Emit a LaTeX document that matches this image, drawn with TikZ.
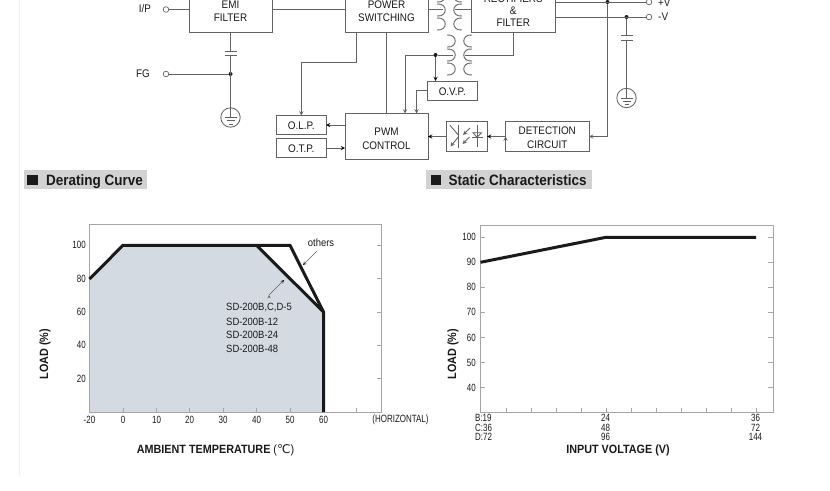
\documentclass[tikz,border=0pt]{standalone}
\usepackage{fontspec}
\setmainfont[FakeStretch=0.9]{Liberation Sans}
\newfontfamily\narrowfont[FakeStretch=0.76]{Liberation Sans}
\newfontfamily\unitfont{DejaVu Sans}
\usetikzlibrary{positioning}
\usetikzlibrary{arrows,calc}
\definecolor{wire}{HTML}{626262}
\definecolor{frame}{HTML}{A6A6A6}
\definecolor{ink}{HTML}{1A1A1A}
\definecolor{titlegray}{HTML}{D2D2D2}
\definecolor{derate}{HTML}{D3DAE1}
\tikzset{
	block/.style={draw=wire,line width=0.9pt,align=center,inner sep=0,outer sep=0,text=ink,font=\fontsize{11}{13.5}\selectfont},
	wideblock/.style={block,minimum width=83pt,minimum height=42pt},
	smallblock/.style={block,minimum width=49.5pt,minimum height=19pt},
	conn/.style={draw=wire,line width=0.9pt},
	term/.style={circle,draw=wire,line width=0.7pt,fill=white,minimum size=5.6pt,inner sep=0,outer sep=0},
	junction/.style={circle,fill=ink,minimum size=4pt,inner sep=0,outer sep=0},
	earth/.style={circle,draw=wire,line width=0.8pt,fill=white,minimum size=19.4pt,inner sep=0,outer sep=0},
	pinlabel/.style={inner sep=0,text=ink,font=\fontsize{11}{11}\selectfont},
	titlebar/.style={fill=titlegray,inner sep=0,outer sep=0,minimum height=19pt},
	titlemark/.style={fill=ink,inner sep=0,minimum size=10.5pt},
	titletext/.style={inner sep=0,anchor=base west,text=ink,font=\fontsize{15}{15}\selectfont\bfseries},
	ticklabel/.style={inner sep=0,text=ink,font=\narrowfont\fontsize{10.5}{10.5}\selectfont},
	axislabel/.style={inner sep=0,text=ink,font=\fontsize{12}{12}\selectfont\bfseries},
	notelabel/.style={inner sep=0,anchor=west,text=ink,font=\fontsize{10.5}{10.5}\selectfont},
	curve/.style={draw=ink,line width=3pt},
	>=stealth
}
% one winding, three turns, bulging to the right (+1) or the left (-1)
\newcommand{\winding}[3]{
	\foreach \turn in {0,14,28}
		\draw[conn] (#1,#2+\turn) .. controls (#1+#3*11,#2+\turn-1) and (#1+#3*11,#2+\turn+13) .. (#1,#2+\turn+12);
}
\newcommand{\earthbars}[1]{
	\draw[conn] ($(#1)+(-6,0)$) -- ($(#1)+(6,0)$);
	\draw[conn] ($(#1)+(-4,3.4)$) -- ($(#1)+(4,3.4)$);
	\draw[conn] ($(#1)+(-2,6.8)$) -- ($(#1)+(2,6.8)$);
}
\begin{document}
\begin{tikzpicture}[x=1pt,y=-1pt]
	\path[use as bounding box,clip] (0,0) rectangle (830,490);
	\fill[white] (0,0) rectangle (830,490);
	\draw[black!6,line width=0.8pt] (19,0) -- (19,475);

	% block diagram
	\node[wideblock] (emi) at (230.5,11) {EMI\\FILTER};
	\node[wideblock] (psw) [right=73pt of emi] {POWER\\SWITCHING};
	\node[wideblock,minimum width=83.5pt] (rect) at (513.25,11) {RECTIFIERS\\[-1.5pt]\&\\[-1.5pt]FILTER};
	\node[block,minimum width=83pt,minimum height=45.5pt] (pwm) [below=81.5pt of psw] {\rule{0pt}{13pt}PWM\\CONTROL};
	\node[smallblock] (olp) at (301.25,125) {\rule{0pt}{9.5pt}O.L.P.};
	\node[smallblock] (otp) [below=4pt of olp] {\rule{0pt}{9.5pt}O.T.P.};
	\node[smallblock] (ovp) at (452.25,90.5) {\rule{0pt}{9.5pt}O.V.P.};
	\node[block,minimum width=40.5pt,minimum height=30pt] (opto) at (466.75,136.5) {};
	\node[block,minimum width=83.5pt,minimum height=30pt] (det) [right=18.5pt of opto] {\rule{0pt}{10pt}DETECTION\\CIRCUIT};

	\node[pinlabel] (iplabel) at (145,9) {I/P};
	\node[pinlabel] (fglabel) at (143,74) {FG};
	\node[pinlabel,anchor=west] (pvlabel) at (658,3) {+V};
	\node[pinlabel,anchor=west] (nvlabel) at (658,17) {-V};
	\node[term] (ip) at (166,9.5) {};
	\node[term] (fg) at (166,74) {};
	\node[term] (pv) at (649,2) {};
	\node[term] (nv) at (649,17) {};
	\node[junction] (fgdot) at (230.5,74) {};
	\node[junction] (pvdot) at (607.5,2) {};
	\node[junction] (nvdot) at (626.5,17) {};
	\node[junction] (fbdot) at (435.5,55) {};
	\node[earth] (gnda) at (230.5,117.5) {};
	\node[earth] (gndb) at (626.5,98) {};

	\coordinate (capa) at (230.5,51);
	\coordinate (capb) at (230.5,55);
	\coordinate (capc) at (626.5,35);
	\coordinate (capd) at (626.5,40);
	\coordinate (tin) at (443,9.5);
	\coordinate (tout) at (455,9.5);
	\coordinate (fbin) at (453,55);
	\coordinate (fbout) at (465,55);

	\winding{437}{-10}{1}
	\winding{462}{-10}{-1}
	\winding{447}{35}{1}
	\winding{472}{35}{-1}

	\path[conn]
		(ip) edge (emi.west |- ip)
		(emi.east |- ip) edge (psw.west |- ip)
		(psw.east |- ip) edge (tin)
		(tout) edge (rect.west |- tout)
		(fg) edge (fgdot)
		(rect.east |- pv) edge (pv)
		(rect.east |- nv) edge (nv)
		(emi.south) edge (capa)
		(capb) edge (gnda.north)
		(nvdot) edge (capc)
		(capd) edge (gndb.north)
		(psw.south) edge (pwm.north)
		(fbdot) edge (fbin);
	\draw[conn] (fbout) -- (rect.south |- fbout) -- (rect.south);
	\draw[conn] ($(capa)+(-6,0)$) -- ($(capa)+(6,0)$);
	\draw[conn] ($(capb)+(-6,0)$) -- ($(capb)+(6,0)$);
	\draw[conn] ($(capc)+(-6,0)$) -- ($(capc)+(6,0)$);
	\draw[conn] ($(capd)+(-6,0)$) -- ($(capd)+(6,0)$);
	\draw[conn] (fgdot) -- (capb);
	\draw[conn] (gnda.center) -- (gnda.north);
	\draw[conn] (gndb.center) -- (gndb.north);
	\earthbars{gnda}
	\earthbars{gndb}

	\path[->,conn]
		(pwm.west |- olp) edge (olp.east)
		(otp.east) edge (pwm.west |- otp)
		(opto.west) edge (pwm.east |- opto)
		(det.west) edge (opto.east)
		(fbdot) edge (fbdot |- ovp.north);
	\draw[->,conn] (356.3,32) -- (356.3,62) -- (olp.north |- 0,62) -- (olp.north);
	\draw[->,conn] (fbdot) -- (405,55) -- (405,113.5);
	\draw[->,conn] (ovp.west) -- (416.5,90.5) -- (416.5,113.5);
	\draw[->,conn] (pvdot) -- (pvdot |- det) -- (det.east);

	% opto coupler
	\draw[conn] (458.3,125) -- (458.3,148);
	\draw[conn] (450,125.3) -- (458.3,135);
	\draw[->,conn] (458.3,137) -- (450.5,146.5);
	\draw[->,conn] (470,128) -- (463,135);
	\draw[->,conn] (469.5,137) -- (462.5,144);
	\draw[conn] (477,125) -- (477,147);
	\draw[conn] (473,132.7) -- (481.5,132.7) -- (477,137.3) -- cycle;
	\draw[conn] (471.5,137.3) -- (483,137.3);

	% section titles
	\node[titlebar,minimum width=123pt] (derbar) at (85,179.5) {};
	\node[titlebar,minimum width=166pt] (statbar) at (509,179.5) {};
	\node[titlemark] (dermark) at (32.5,180) {};
	\node[titlemark] (statmark) at (436,180) {};
	\node[titletext] (dertitle) at (46,185.5) {Derating Curve};
	\node[titletext] (stattitle) at (448.5,185.5) {Static Characteristics};

	% derating curve
	\fill[derate] (89.5,279) -- (123,245.3) -- (256.5,245.3) -- (323.5,312) -- (323.5,412) -- (89.5,412) -- cycle;
	\draw[frame,line width=1pt] (89.5,224.5) rectangle (381.5,412);
	\foreach \py/\lab in {245.3/100,278.7/80,312/60,345.3/40,378.7/20}{
		\draw[frame,line width=0.7pt] (377,\py) -- (381.5,\py);
		\node[ticklabel,anchor=east] (dl\lab) at (86,\py) {\lab};
	}
	\foreach \px/\lab in {89.5/-20,123/0,156.5/10,189.5/20,223/30,256.5/40,290/50,323.5/60}{
		\draw[frame,line width=0.7pt] (\px,408) -- (\px,412);
		\node[ticklabel] (dx\lab) at (\px,420) {\lab};
	}
	\draw[frame,line width=0.7pt] (356.5,408) -- (356.5,412);
	\draw[curve] (89.5,279) -- (123,245.3) -- (290,245.3) -- (323.5,312) -- (323.5,412);
	\draw[curve] (256.5,245.3) -- (323.5,312);
	\node[ticklabel] (horiz) at (400.5,420) {(HORIZONTAL)};
	\node[notelabel,anchor=center] (others) at (321,243) {others};
	\coordinate (othersa) at (317,251);
	\coordinate (othersb) at (303,265);
	\coordinate (sda) at (269,295);
	\coordinate (sdb) at (284,280);
	\path[->,draw=wire,line width=0.5pt]
		(othersa) edge (othersb)
		(sda) edge (sdb);
	\node[notelabel] (sdf) at (226,308) {SD-200B,C,D-5};
	\node[notelabel] (sdt) at (226,321.5) {SD-200B-12};
	\node[notelabel] (sdq) at (226,335) {SD-200B-24};
	\node[notelabel] (sdh) at (226,348.5) {SD-200B-48};
	\node[axislabel,rotate=90] (dload) at (45,354) {LOAD (\%)};
	\node[axislabel] (dtemp) at (215.5,450) {AMBIENT TEMPERATURE {\mdseries(\unitfont ℃\normalfont)}};

	% static characteristics
	\draw[frame,line width=1pt] (480.5,225) rectangle (773,412.5);
	\foreach \py/\lab in {237.3/100,262.3/90,287.3/80,312.3/70,337.5/60,362.5/50,387.5/40}{
		\draw[frame,line width=0.7pt] (480.5,\py) -- (485,\py);
		\draw[frame,line width=0.7pt] (768,\py) -- (773,\py);
		\node[ticklabel,anchor=east] (sl\lab) at (476,\py) {\lab};
	}
	\foreach \px in {506,531,556,581,606,631,656,681,706,731,756}
		\draw[frame,line width=0.7pt] (\px,408) -- (\px,412.5);
	\draw[curve] (480.5,262.3) -- (606,237.3) -- (756,237.3);
	\node[ticklabel,anchor=west] (vb) at (475,418) {B:19};
	\node[ticklabel,anchor=west] (vc) at (475,428) {C:36};
	\node[ticklabel,anchor=west] (vd) at (475,437) {D:72};
	\node[ticklabel] (vba) at (605.5,418) {24};
	\node[ticklabel] (vca) at (605.5,428) {48};
	\node[ticklabel] (vda) at (605.5,437) {96};
	\node[ticklabel] (vbb) at (755.5,418) {36};
	\node[ticklabel] (vcb) at (755.5,428) {72};
	\node[ticklabel] (vdb) at (755.5,437) {144};
	\node[axislabel,rotate=90] (sload) at (453,354) {LOAD (\%)};
	\node[axislabel] (svolt) at (618,450) {INPUT VOLTAGE (V)};
\end{tikzpicture}
\end{document}
